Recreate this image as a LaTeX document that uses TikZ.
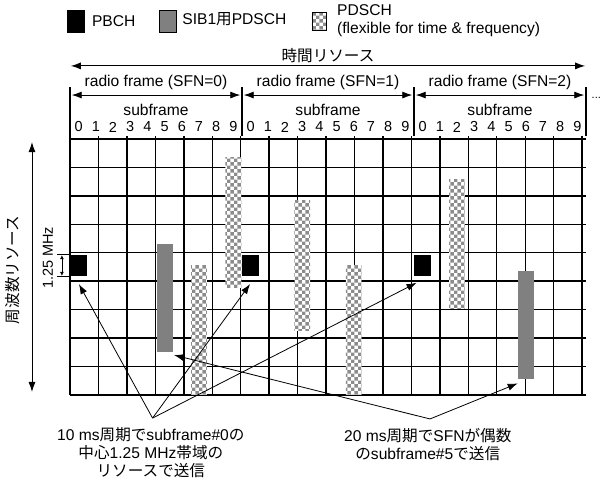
\documentclass[tikz,border=0pt]{standalone}
\usepackage{fontspec}
\setmainfont{Liberation Sans}
\newfontfamily\jpfont{Noto Sans CJK JP}
\usetikzlibrary{arrows.meta, positioning, patterns.meta}
\newcommand{\ja}[1]{{\jpfont #1}}

% gray/white checker used for the flexible PDSCH
\tikzdeclarepattern{
    name=checker,
    type=colored,
    bottom left={(0pt,0pt)},
    top right={(6.88pt,6.88pt)},
    tile size={(6.88pt,6.88pt)},
    code={
        \fill[white] (0pt,0pt) rectangle (6.88pt,6.88pt);
        \fill[gray!90] (0pt,0pt) rectangle (3.44pt,3.44pt);
        \fill[gray!90] (3.44pt,3.44pt) rectangle (6.88pt,6.88pt);
    }
}

\begin{document}
\begin{tikzpicture}[
    x=17.2pt, y=21.58pt,
    font=\fontsize{15.6}{18}\selectfont,
    gridline/.style={line width=1.4pt},
    span/.style={{Latex[length=10pt,width=7pt]}-{Latex[length=10pt,width=7pt]}, line width=0.9pt},
    pointer/.style={-{Latex[length=10pt,width=7pt]}, line width=0.8pt},
    pbch/.style={fill=black},
    sib/.style={fill=gray},
    pdsch/.style={pattern=checker},
    key/.style={rectangle, draw, minimum width=17.2pt, minimum height=21.6pt, inner sep=0pt},
    keytext/.style={inner sep=0pt, align=left},
    digit/.style={font=\fontsize{14.5}{16}\selectfont, inner sep=0pt}
]
\useasboundingbox (-70pt,-85pt) rectangle (532pt,395pt);

% legend
\node[key, fill=black] (keyPBCH) at (0.35,17.33) {};
\node[keytext, right=7pt of keyPBCH] (txtPBCH) {PBCH};
\node[key, fill=gray, right=23pt of txtPBCH] (keySIB) {};
\node[keytext, right=6pt of keySIB, yshift=2pt] (txtSIB) {SIB1\ja{用}PDSCH};
\node[key, pdsch, minimum width=14pt, minimum height=18pt, right=25pt of txtSIB, yshift=-2pt] (keyPDSCH) {};
\node[keytext, right=11pt of keyPDSCH] (txtPDSCH) {PDSCH\\(flexible for time \& frequency)};

% time axis
\node (timeLbl) at (15,15.72) {\ja{時間リソース}};
\coordinate (timeL) at (0.05,15.25);
\coordinate (timeR) at (29.95,15.25);
\draw[span] (timeL) -- (timeR);

% radio frames and subframe numbers
\foreach \f in {0,1,2} {
    \node (frame\f) at (10*\f+5,14.46) {radio frame (SFN=\f)};
    \coordinate (frameL\f) at (10*\f+0.1,13.9);
    \coordinate (frameR\f) at (10*\f+9.9,13.9);
    \draw[span] (frameL\f) -- (frameR\f);
    \node (sub\f) at (10*\f+5,13.2) {subframe};
    \foreach \s in {0,...,9}
        \node[digit] (num\f\s) at (10*\f+\s+0.5,12.42) {\s};
}
\foreach \x in {0,10,20,30}
    \draw[gridline] (\x,12) -- (\x,14.27);
\node[font=\fontsize{11}{11}\selectfont] (more) at (30.6,13.75) {...};

% resource grid
\draw[gridline] (0,0) grid (30,12);

% PBCH
\foreach \x in {0,10,20}
    \fill[pbch] (\x,5.5) rectangle (\x+1,6.5);
% SIB1
\fill[sib] (5.04,2) rectangle (5.96,7);
\fill[sib] (26.04,0.74) rectangle (26.96,5.74);
% PDSCH
\fill[pdsch] (7.04,0.03) rectangle (7.96,6);
\fill[pdsch] (9.04,5) rectangle (9.96,11);
\fill[pdsch] (13.04,3) rectangle (13.96,9);
\fill[pdsch] (16.04,0.03) rectangle (16.96,6);
\fill[pdsch] (22.04,4) rectangle (22.96,10);

% frequency axis
\coordinate (freqT) at (-2.21,11.72);
\coordinate (freqB) at (-2.21,0.14);
\draw[span] (freqB) -- (freqT);
\node[rotate=90] (freqLbl) at (-3.31,5.8) {\ja{周波数リソース}};
\node[rotate=90, font=\fontsize{14.5}{16}\selectfont] (bwLbl) at (-1.28,6.35) {1.25 MHz};
\draw[line width=0.7pt] (-0.76,5.5) -- (0,5.5);
\draw[line width=0.7pt] (-0.76,6.5) -- (0,6.5);
\coordinate (bwB) at (-0.47,5.52);
\coordinate (bwT) at (-0.47,6.48);
\draw[{Latex[length=4pt,width=4pt]}-{Latex[length=4pt,width=4pt]}, line width=0.7pt] (bwB) -- (bwT);

% notes
\node[align=center] (note10) at (4.7,-2.69) {10 ms\ja{周期で}subframe\#0\ja{の}\\\ja{中心}1.25 MHz\ja{帯域の}\\\ja{リソースで送信}};
\node[align=center] (note20) at (20.8,-2.3) {20 ms\ja{周期で}SFN\ja{が偶数}\\\ja{の}subframe\#5\ja{で送信}};

\coordinate (apex10) at (4.8,-1.07);
\coordinate (apex20) at (20.93,-1.11);
\coordinate (tipPBCH0) at (0.52,5.14);
\coordinate (tipPBCH1) at (10.47,5.14);
\coordinate (tipPBCH2) at (20.15,5.2);
\coordinate (tipSIB0) at (6.05,1.85);
\coordinate (tipSIB2) at (26.03,0.54);

\draw[pointer] (apex10) -- (tipPBCH0);
\draw[pointer] (apex10) -- (tipPBCH1);
\draw[pointer] (apex10) -- (tipPBCH2);
\draw[pointer] (apex20) -- (tipSIB0);
\draw[pointer] (apex20) -- (tipSIB2);

\end{tikzpicture}
\end{document}
